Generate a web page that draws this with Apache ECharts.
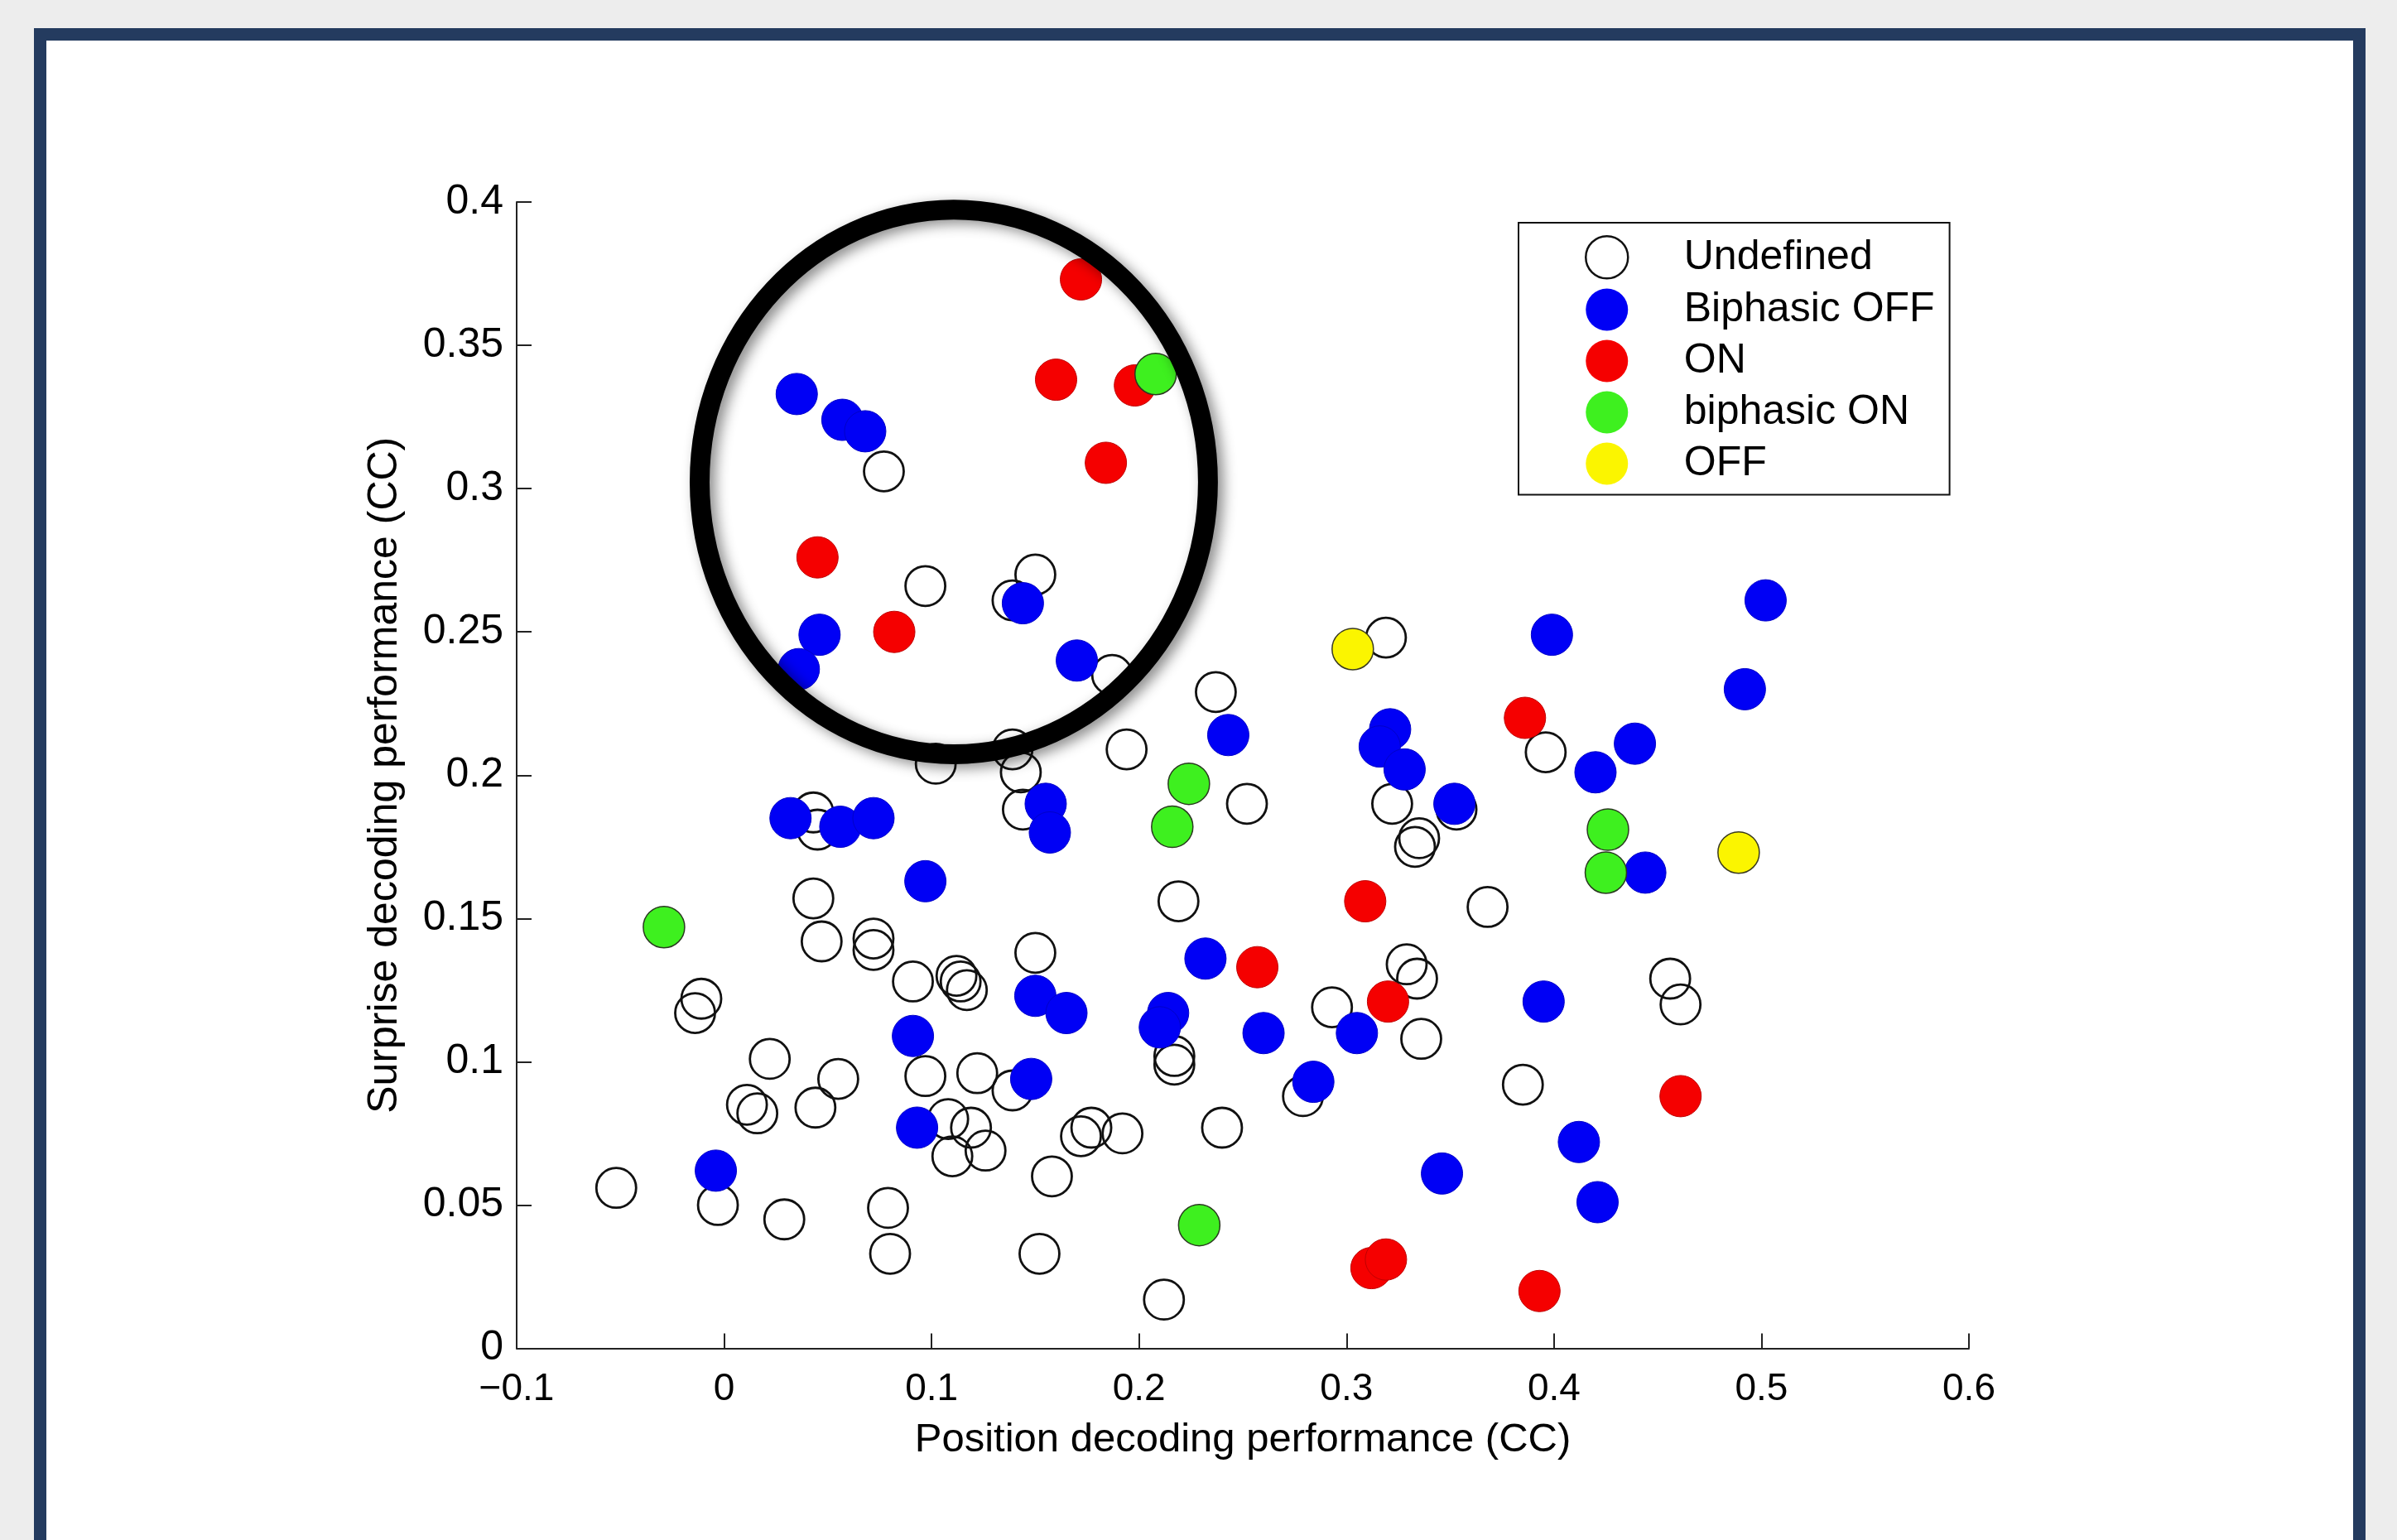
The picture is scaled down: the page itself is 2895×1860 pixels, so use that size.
<!DOCTYPE html>
<html>
<head>
<meta charset="utf-8">
<script src="https://cdn.jsdelivr.net/npm/echarts@6/dist/echarts.min.js"></script>
<style>
  html, body { margin: 0; padding: 0; background: #ededed; overflow: hidden; }
  #frame { position: absolute; left: 41px; top: 34px; width: 2816px; height: 1900px;
           box-sizing: border-box; border: 15px solid #243b5f; border-bottom: none; background: #ffffff; }
  #chart { position: absolute; left: 0; top: 0; width: 2895px; height: 1860px; }
</style>
</head>
<body>
<div id="frame"></div>
<div id="chart"></div>
<script>
// ---------------- data ----------------
const seriesNames = ['Undefined', 'Biphasic OFF', 'ON', 'biphasic ON', 'OFF'];

const undefinedPts = [
  [0.077, 0.306], [0.097, 0.266], [0.150, 0.270], [0.139, 0.261], [0.187, 0.235],
  [0.237, 0.229], [0.194, 0.209], [0.102, 0.204], [0.139, 0.209], [0.143, 0.201],
  [0.144, 0.188], [0.319, 0.248], [0.396, 0.208], [0.043, 0.187], [0.045, 0.181],
  [0.043, 0.157], [0.047, 0.142], [0.072, 0.143], [0.072, 0.139], [0.091, 0.128],
  [0.112, 0.130], [0.114, 0.128], [0.117, 0.125], [-0.011, 0.122], [-0.014, 0.117],
  [0.097, 0.095], [0.122, 0.096], [0.022, 0.101], [0.011, 0.085], [0.016, 0.082],
  [0.044, 0.084], [0.055, 0.094], [0.108, 0.080], [0.119, 0.077], [0.110, 0.067],
  [0.126, 0.069], [-0.003, 0.050], [-0.052, 0.056], [0.029, 0.045], [0.079, 0.049],
  [0.080, 0.033], [0.252, 0.190], [0.219, 0.156], [0.322, 0.190], [0.353, 0.188],
  [0.335, 0.178], [0.333, 0.175], [0.368, 0.154], [0.150, 0.138], [0.329, 0.134],
  [0.334, 0.129], [0.293, 0.119], [0.336, 0.108], [0.217, 0.102], [0.217, 0.099],
  [0.279, 0.088], [0.139, 0.090], [0.172, 0.074], [0.177, 0.077], [0.192, 0.075],
  [0.240, 0.077], [0.158, 0.060], [0.152, 0.033], [0.212, 0.017], [0.456, 0.129],
  [0.461, 0.120], [0.385, 0.092]
];

const biphasicOffPts = [
  [0.035, 0.333], [0.057, 0.324], [0.068, 0.320], [0.046, 0.249], [0.036, 0.237],
  [0.144, 0.260], [0.170, 0.240], [0.243, 0.214], [0.321, 0.216], [0.316, 0.210],
  [0.328, 0.202], [0.502, 0.261], [0.399, 0.249], [0.492, 0.230], [0.439, 0.211],
  [0.420, 0.201], [0.032, 0.185], [0.056, 0.182], [0.072, 0.185], [0.097, 0.163],
  [0.091, 0.109], [0.093, 0.077], [-0.004, 0.062], [0.155, 0.190], [0.157, 0.180],
  [0.352, 0.190], [0.232, 0.136], [0.305, 0.110], [0.150, 0.123], [0.165, 0.117],
  [0.214, 0.117], [0.210, 0.112], [0.260, 0.110], [0.284, 0.093], [0.148, 0.094],
  [0.346, 0.061], [0.444, 0.166], [0.395, 0.121], [0.412, 0.072], [0.421, 0.051]
];

const onPts = [
  [0.045, 0.276], [0.082, 0.250], [0.172, 0.373], [0.160, 0.338], [0.198, 0.336],
  [0.184, 0.309], [0.386, 0.220], [0.309, 0.156], [0.257, 0.133], [0.320, 0.121],
  [0.312, 0.028], [0.319, 0.031], [0.461, 0.088], [0.393, 0.020]
];

const biphasicOnPts = [
  [0.208, 0.340], [0.224, 0.197], [0.216, 0.182], [-0.029, 0.147], [0.229, 0.043],
  [0.426, 0.181], [0.425, 0.166]
];

const offPts = [
  [0.303, 0.244], [0.489, 0.173]
];

// annotation ellipse (data units): centre x, centre y, radius x, radius y
const highlightEllipse = [[0.1107, 0.3023, 0.1225, 0.0950]];

const xTickLabels = ['\u22120.1', '0', '0.1', '0.2', '0.3', '0.4', '0.5', '0.6'];
const yTickLabels = ['0', '0.05', '0.1', '0.15', '0.2', '0.25', '0.3', '0.35', '0.4'];

const xAxisTitle = 'Position decoding performance (CC)';
const yAxisTitle = 'Surprise decoding performance (CC)';

// ---------------- chart ----------------
const FONT = '"Liberation Sans", Arial, Helvetica, sans-serif';
const chart = echarts.init(document.getElementById('chart'), null, { renderer: 'canvas' });

function filledSeries(name, data, color, edge, edgeW) {
  return {
    name: name, type: 'scatter', data: data, symbol: 'circle', symbolSize: 50,
    itemStyle: { color: color, borderColor: edge, borderWidth: edgeW, opacity: 1 },
    emphasis: { disabled: true }, z: 3
  };
}

const option = {
  backgroundColor: 'transparent',
  animation: false,
  textStyle: { fontFamily: FONT },
  grid: { left: 624, top: 244, right: 517, bottom: 231.5, containLabel: false, outerBoundsMode: 'none' },
  legend: {
    show: true, orient: 'vertical', left: 1834, top: 269,
    padding: [15, 18, 12, 80],
    itemWidth: 176, itemHeight: 51, itemGap: 11,
    backgroundColor: '#ffffff', borderColor: '#111111', borderWidth: 2, borderRadius: 0,
    selectedMode: false,
    textStyle: { fontSize: 50, color: '#000000', fontFamily: FONT },
    data: [
      { name: seriesNames[0], icon: 'circle', itemStyle: { color: 'transparent', borderColor: '#111', borderWidth: 2.5 } },
      { name: seriesNames[1], icon: 'circle', itemStyle: { borderWidth: 0 } },
      { name: seriesNames[2], icon: 'circle', itemStyle: { borderWidth: 0 } },
      { name: seriesNames[3], icon: 'circle', itemStyle: { borderWidth: 0 } },
      { name: seriesNames[4], icon: 'circle', itemStyle: { borderWidth: 0 } }
    ]
  },
  xAxis: {
    type: 'value', min: -0.1, max: 0.6, interval: 0.1,
    name: xAxisTitle, nameLocation: 'middle', nameGap: 86,
    nameTextStyle: { fontSize: 49, color: '#000', fontFamily: FONT },
    axisLine: { show: true, onZero: false, lineStyle: { color: '#222', width: 2 } },
    axisTick: { show: true, inside: true, length: 18, lineStyle: { color: '#222', width: 2 } },
    axisLabel: {
      show: true, margin: 27, fontSize: 46, color: '#000', fontFamily: FONT,
      formatter: function (v, i) { return xTickLabels[i]; }
    },
    splitLine: { show: false }
  },
  yAxis: {
    type: 'value', min: 0, max: 0.4, interval: 0.05,
    name: yAxisTitle, nameLocation: 'middle', nameGap: 134,
    nameTextStyle: { fontSize: 50, color: '#000', fontFamily: FONT },
    axisLine: { show: true, onZero: false, lineStyle: { color: '#222', width: 2 } },
    axisTick: { show: true, inside: true, length: 18, lineStyle: { color: '#222', width: 2 } },
    axisLabel: {
      show: true, margin: 16, fontSize: 50, color: '#000', fontFamily: FONT,
      formatter: function (v, i) { return yTickLabels[i]; }
    },
    splitLine: { show: false }
  },
  series: [
    {
      name: seriesNames[0], type: 'scatter', data: undefinedPts, symbol: 'circle', symbolSize: 48,
      itemStyle: { color: 'transparent', borderColor: '#111111', borderWidth: 2.8, opacity: 1 },
      emphasis: { disabled: true }, z: 2
    },
    filledSeries(seriesNames[1], biphasicOffPts, '#0000f5', '#0000c8', 1),
    filledSeries(seriesNames[2], onPts, '#f50000', '#c00000', 1),
    filledSeries(seriesNames[3], biphasicOnPts, '#3ef01f', '#2a3a20', 1.5),
    filledSeries(seriesNames[4], offPts, '#fbf500', '#3a3a20', 1.5),
    {
      type: 'custom', name: 'ellipse-annotation', data: highlightEllipse, z: 5, silent: true,
      clip: false,
      renderItem: function (params, api) {
        const c = api.coord([api.value(0), api.value(1)]);
        const s = api.size([api.value(2), api.value(3)]);
        return {
          type: 'ellipse',
          shape: { cx: c[0], cy: c[1], rx: s[0], ry: s[1] },
          style: {
            fill: 'none', stroke: '#000000', lineWidth: 24,
            shadowBlur: 16, shadowColor: 'rgba(0,0,0,0.45)', shadowOffsetX: 7, shadowOffsetY: 5
          }
        };
      }
    }
  ]
};

chart.setOption(option);
</script>
</body>
</html>
